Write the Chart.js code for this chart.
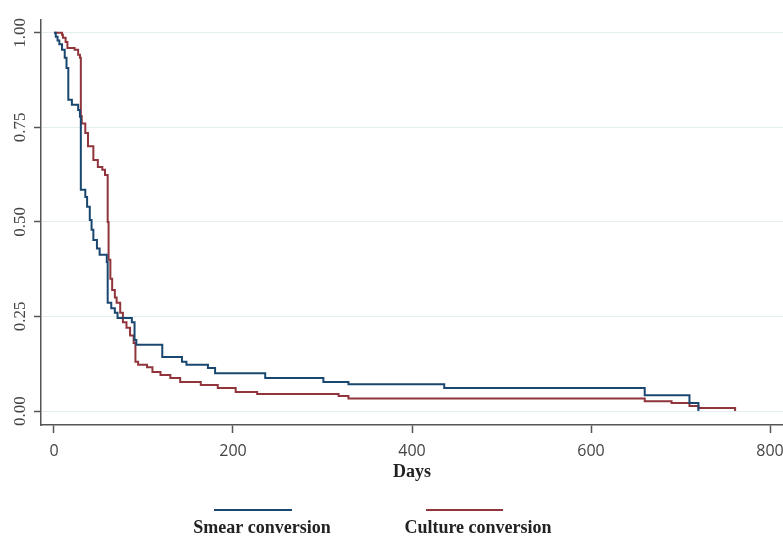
<!DOCTYPE html>
<html>
<head>
<meta charset="utf-8">
<script src="https://cdn.jsdelivr.net/npm/chart.js@4"></script>
<style>
  html, body { margin: 0; padding: 0; background: #ffffff; }
  #wrap { width: 783px; height: 540px; }
</style>
</head>
<body>
<div id="wrap"><canvas id="kmChart" width="783" height="540"></canvas></div>
<script>
// Kaplan-Meier estimates (day, proportion not yet converted)
const smearDays = [0, 2, 4, 6, 9, 12, 14, 16, 20, 27, 29, 30, 35, 37, 40, 42, 44, 48, 51, 59, 60, 64, 68, 71, 87, 90, 92, 121, 143, 148, 172, 180, 236, 301, 329, 436, 660, 710, 720];
const smearSurv = [1.0, 0.99, 0.98, 0.97, 0.955, 0.934, 0.907, 0.823, 0.81, 0.796, 0.778, 0.585, 0.566, 0.54, 0.505, 0.479, 0.452, 0.43, 0.413, 0.394, 0.286, 0.272, 0.26, 0.246, 0.235, 0.188, 0.175, 0.143, 0.13, 0.122, 0.114, 0.10, 0.087, 0.077, 0.071, 0.061, 0.042, 0.021, 0.0];

const cultureDays = [0, 7, 9, 10, 13, 15, 23, 27, 29, 30, 31, 35, 38, 44, 49, 54, 57, 60, 61, 63, 65, 68, 70, 74, 77, 81, 85, 89, 91, 94, 104, 110, 119, 130, 141, 164, 183, 203, 227, 318, 329, 660, 690, 710, 720, 761];
const cultureSurv = [1.0, 1.0, 0.995, 0.987, 0.976, 0.96, 0.955, 0.942, 0.934, 0.78, 0.76, 0.735, 0.70, 0.664, 0.645, 0.638, 0.624, 0.50, 0.40, 0.35, 0.32, 0.30, 0.286, 0.26, 0.235, 0.22, 0.20, 0.18, 0.13, 0.122, 0.116, 0.103, 0.095, 0.087, 0.077, 0.069, 0.061, 0.05, 0.045, 0.04, 0.033, 0.026, 0.021, 0.013, 0.008, 0.0];

const seriesNames = ['Smear conversion', 'Culture conversion'];
const seriesColors = ['#1a476f', '#90353b'];
const xTicks = [0, 200, 400, 600, 800];
const yTicks = [0, 0.25, 0.5, 0.75, 1];
const yTickLabels = ['0.00', '0.25', '0.50', '0.75', '1.00'];
const xTitle = 'Days';

function toPoints(days, surv) {
    return days.map((d, i) => ({ x: d, y: surv[i] }));
}

// y tick labels (rotated) and the two-row legend under the axis
const extrasPlugin = {
    id: 'extras',
    afterDraw(chart) {
        const ctx = chart.ctx;
        const yScale = chart.scales.y;
        ctx.save();
        ctx.fillStyle = '#444';
        ctx.font = '17px "Liberation Serif", "DejaVu Serif", serif';
        ctx.textAlign = 'center';
        ctx.textBaseline = 'alphabetic';
        yTicks.forEach((v, i) => {
            const py = yScale.getPixelForValue(v);
            ctx.save();
            ctx.translate(25, py);
            ctx.rotate(-Math.PI / 2);
            ctx.fillText(yTickLabels[i], 0, 0);
            ctx.restore();
        });

        // legend
        const items = [
            { x1: 214, x2: 292, tx: 262 },
            { x1: 426, x2: 503, tx: 478 }
        ];
        ctx.font = 'bold 18px "Liberation Serif", "DejaVu Serif", serif';
        ctx.fillStyle = '#222';
        items.forEach((it, i) => {
            ctx.strokeStyle = seriesColors[i];
            ctx.lineWidth = 2;
            ctx.beginPath();
            ctx.moveTo(it.x1, 510);
            ctx.lineTo(it.x2, 510);
            ctx.stroke();
            ctx.fillText(seriesNames[i], it.tx, 533);
        });
        ctx.restore();
    }
};

const ctx = document.getElementById('kmChart').getContext('2d');
const kmChart = new Chart(ctx, {
    type: 'line',
    data: {
        datasets: [{
            label: seriesNames[0],
            data: toPoints(smearDays, smearSurv),
            borderColor: seriesColors[0],
            borderWidth: 2,
            stepped: 'before',
            pointRadius: 0,
            fill: false
        }, {
            label: seriesNames[1],
            data: toPoints(cultureDays, cultureSurv),
            borderColor: seriesColors[1],
            borderWidth: 2,
            stepped: 'before',
            pointRadius: 0,
            fill: false
        }]
    },
    options: {
        responsive: false,
        animation: false,
        layout: {
            padding: { left: 34, right: 0, top: 20, bottom: 57 }
        },
        plugins: {
            legend: { display: false },
            tooltip: { enabled: false }
        },
        scales: {
            x: {
                type: 'linear',
                min: -14.5,
                max: 814.5,
                afterBuildTicks: (s) => { s.ticks = xTicks.map(v => ({ value: v })); },
                afterFit: (s) => {
                    s.height = 58;
                    s.paddingLeft = 0;
                    s.paddingRight = 0;
                },
                ticks: {
                    color: '#444',
                    padding: 9,
                    maxRotation: 0,
                    font: { family: '"Open Sans", sans-serif', size: 16 }
                },
                grid: {
                    drawOnChartArea: false,
                    tickLength: 8,
                    tickColor: '#555',
                    tickWidth: 1.5
                },
                border: { color: '#555', width: 1.5 },
                title: {
                    display: true,
                    text: xTitle,
                    color: '#222',
                    padding: { top: 2, bottom: 0 },
                    font: { family: '"Liberation Serif", "DejaVu Serif", serif', size: 18, weight: 'bold' }
                }
            },
            y: {
                min: -0.037,
                max: 1.034,
                afterBuildTicks: (s) => { s.ticks = yTicks.map(v => ({ value: v })); },
                ticks: { display: false },
                grid: {
                    color: '#e4eef0',
                    lineWidth: 1,
                    tickLength: 7,
                    tickColor: '#555',
                    tickWidth: 1.5
                },
                border: { color: '#555', width: 1.5 }
            }
        }
    },
    plugins: [extrasPlugin]
});
</script>
</body>
</html>
